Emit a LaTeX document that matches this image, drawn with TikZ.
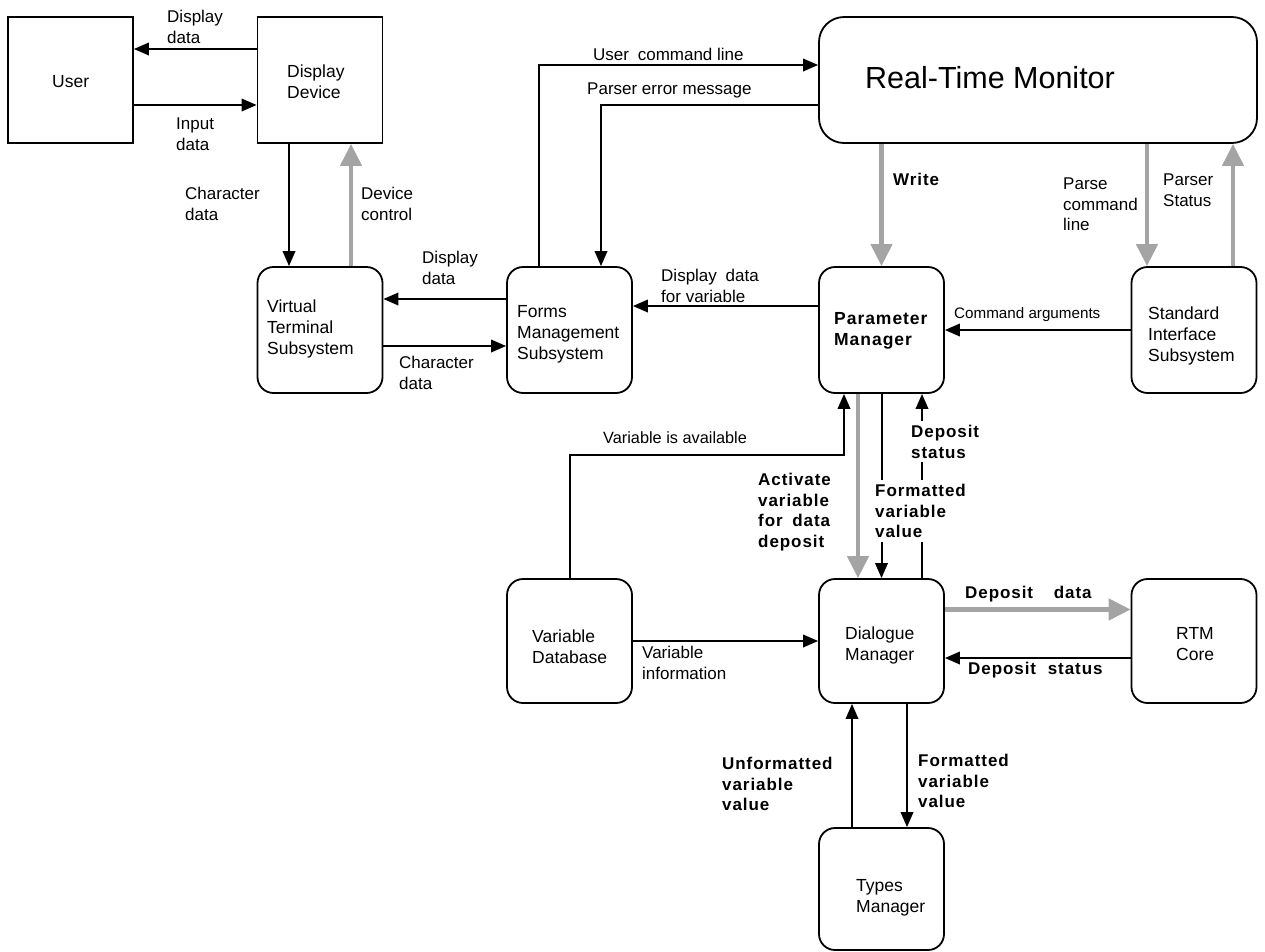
\documentclass[tikz,border=0pt]{standalone}
\usepackage{fontspec}
\setmainfont{Liberation Sans}
\newfontfamily\boldlabel[LetterSpace=5.5]{Liberation Sans Bold}
\usetikzlibrary{arrows.meta}
\definecolor{flowgray}{HTML}{A4A4A4}
\begin{document}
\begin{tikzpicture}[x=1pt,y=-1pt,
  box/.style={draw=black, line width=1.8pt, minimum width=125pt, minimum height=126pt, inner sep=0pt},
  rbox/.style={box, rounded corners=16pt},
  boxtext/.style={anchor=north west, inner sep=0pt, align=left, font=\fontsize{17.5}{21}\selectfont},
  lbl/.style={anchor=north west, inner sep=0pt, align=left, font=\fontsize{17}{20.5}\selectfont},
  blbl/.style={lbl, font=\boldlabel\fontsize{17}{20.5}\selectfont},
  cover/.style={fill=white, inner sep=4pt},
  arr/.style={line width=2pt, -{Triangle[length=15pt,width=12.5pt]}},
  garr/.style={line width=4.5pt, draw=flowgray, -{Triangle[length=22pt,width=21pt]}},
]
\useasboundingbox (0,0) rectangle (1265,951);

% ---- boxes ----
\node[box] (user) at (70.5,80) {};
\node[box] (dd) at (320,80) {};
\node[box, rounded corners=25pt, minimum width=438pt] (rtm) at (1038,80) {};
\node[rbox] (vt) at (320,330) {};
\node[rbox] (fm) at (569.5,330) {};
\node[rbox] (pm) at (881.5,330) {};
\node[rbox] (sis) at (1194,330) {};
\node[rbox, minimum height=124pt] (vd) at (569.5,641) {};
\node[rbox, minimum height=124pt] (dm) at (881.5,641) {};
\node[rbox, minimum height=124pt] (core) at (1194,641) {};
\node[rbox, minimum height=122pt] (tm) at (881.5,889) {};

% ---- box texts ----
\node[boxtext] (userT) at (52,75) {User};
\node[boxtext] (ddT) at (287,65) {Display\\Device};
\node[boxtext, font=\fontsize{30.5}{36}\selectfont] (rtmT) at (865,66) {Real-Time Monitor};
\node[boxtext] (vtT) at (267,300) {Virtual\\Terminal\\Subsystem};
\node[boxtext] (fmT) at (517,305) {Forms\\Management\\Subsystem};
\node[boxtext, font=\boldlabel\fontsize{17.5}{21}\selectfont] (pmT) at (834,312) {Parameter\\Manager};
\node[boxtext] (sisT) at (1148,307) {Standard\\Interface\\Subsystem};
\node[boxtext] (vdT) at (532,630) {Variable\\Database};
\node[boxtext] (dmT) at (845,627) {Dialogue\\Manager};
\node[boxtext] (coreT) at (1176,627) {RTM\\Core};
\node[boxtext] (tmT) at (856,879) {Types\\Manager};

% ---- helper points on box borders ----
\coordinate (pcl) at ([xshift=-47pt]sis.north);
\coordinate (pst) at ([xshift=39pt]sis.north);
\coordinate (avl) at ([xshift=-37.5pt]pm.south);
\coordinate (avlrow) at (0,455);
\coordinate (act) at ([xshift=-23.5pt]pm.south);
\coordinate (dst) at ([xshift=40.5pt]dm.north);
\coordinate (unf) at ([xshift=-29.5pt]tm.north);
\coordinate (fmt) at ([xshift=25.5pt]dm.south);

% ---- connectors ----
\draw[arr] ([yshift=31pt]dd.west) -- ([yshift=31pt]user.east);
\draw[arr] ([yshift=-25pt]user.east) -- ([yshift=-25pt]dd.west);
\draw[arr] ([xshift=-31pt]dd.south) -- ([xshift=-31pt]vt.north);
\draw[garr] ([xshift=31pt]vt.north) -- ([xshift=31pt]dd.south);
\draw[arr] ([yshift=31pt]fm.west) -- ([yshift=31pt]vt.east);
\draw[arr] ([yshift=-16pt]vt.east) -- ([yshift=-16pt]fm.west);
\draw[arr] ([xshift=-30.5pt]fm.north) |- ([yshift=15pt]rtm.west);
\draw[arr] ([yshift=-25pt]rtm.west) -| ([xshift=31.5pt]fm.north);
\draw[arr] ([yshift=24pt]pm.west) -- ([yshift=24pt]fm.east);
\draw[garr] (rtm.south -| pm.north) -- (pm.north);
\draw[garr] (pcl |- rtm.south) -- (pcl);
\draw[garr] (pst) -- (pst |- rtm.south);
\draw[arr] (sis.west) -- (pm.east);
\draw[arr] (vd.north) |- (avlrow -| avl) -- (avl);
\draw[garr] (act) -- (act |- dm.north);
\draw[arr] (pm.south) -- (dm.north);
\draw[arr] (dst) -- (dst |- pm.south);
\draw[arr] (vd.east) -- (dm.west);
\draw[garr] ([yshift=31.5pt]dm.east) -- ([yshift=31.5pt]core.west);
\draw[arr] ([yshift=-17pt]core.west) -- ([yshift=-17pt]dm.east);
\draw[arr] (unf) -- (unf |- dm.south);
\draw[arr] (fmt) -- (fmt |- tm.north);

% ---- connector labels ----
\node[lbl] (l1) at (167,10) {Display\\data};
\node[lbl] (l2) at (176,118) {Input\\data};
\node[lbl] (l3) at (185,187) {Character\\data};
\node[lbl] (l4) at (361,187) {Device\\control};
\node[lbl] (l5) at (593,48) {User\hspace{4pt} command line};
\node[lbl] (l6) at (587,83) {Parser error message};
\node[lbl] (l7) at (422,251) {Display\\data};
\node[lbl] (l8) at (399,356) {Character\\data};
\node[lbl] (l9) at (661,269) {Display\hspace{4pt} data\\for variable};
\node[blbl] (l10) at (893,173) {Write};
\node[lbl] (l11) at (1063,178) {Parse\\command\\line};
\node[lbl] (l12) at (1163,174) {Parser\\Status};
\node[lbl, font=\fontsize{15.2}{18}\selectfont] (l13) at (954,307) {Command arguments};
\node[lbl, font=\fontsize{16.3}{20}\selectfont] (l14) at (603,431) {Variable is available};
\node[blbl] (l15) at (758,473) {Activate\\variable\\for\hspace{4pt} data\\deposit};
\node[blbl, cover] (l16) at (871,480) {Formatted\\variable\\value};
\node[blbl, cover] (l17) at (907,421) {Deposit\\status};
\node[lbl] (l18) at (642,646) {Variable\\information};
\node[blbl] (l19) at (965,586) {Deposit\hspace{15pt} data};
\node[blbl] (l20) at (968,662) {Deposit\hspace{6pt} status};
\node[blbl] (l21) at (722,757) {Unformatted\\variable\\value};
\node[blbl] (l22) at (918,754) {Formatted\\variable\\value};
\end{tikzpicture}
\end{document}
